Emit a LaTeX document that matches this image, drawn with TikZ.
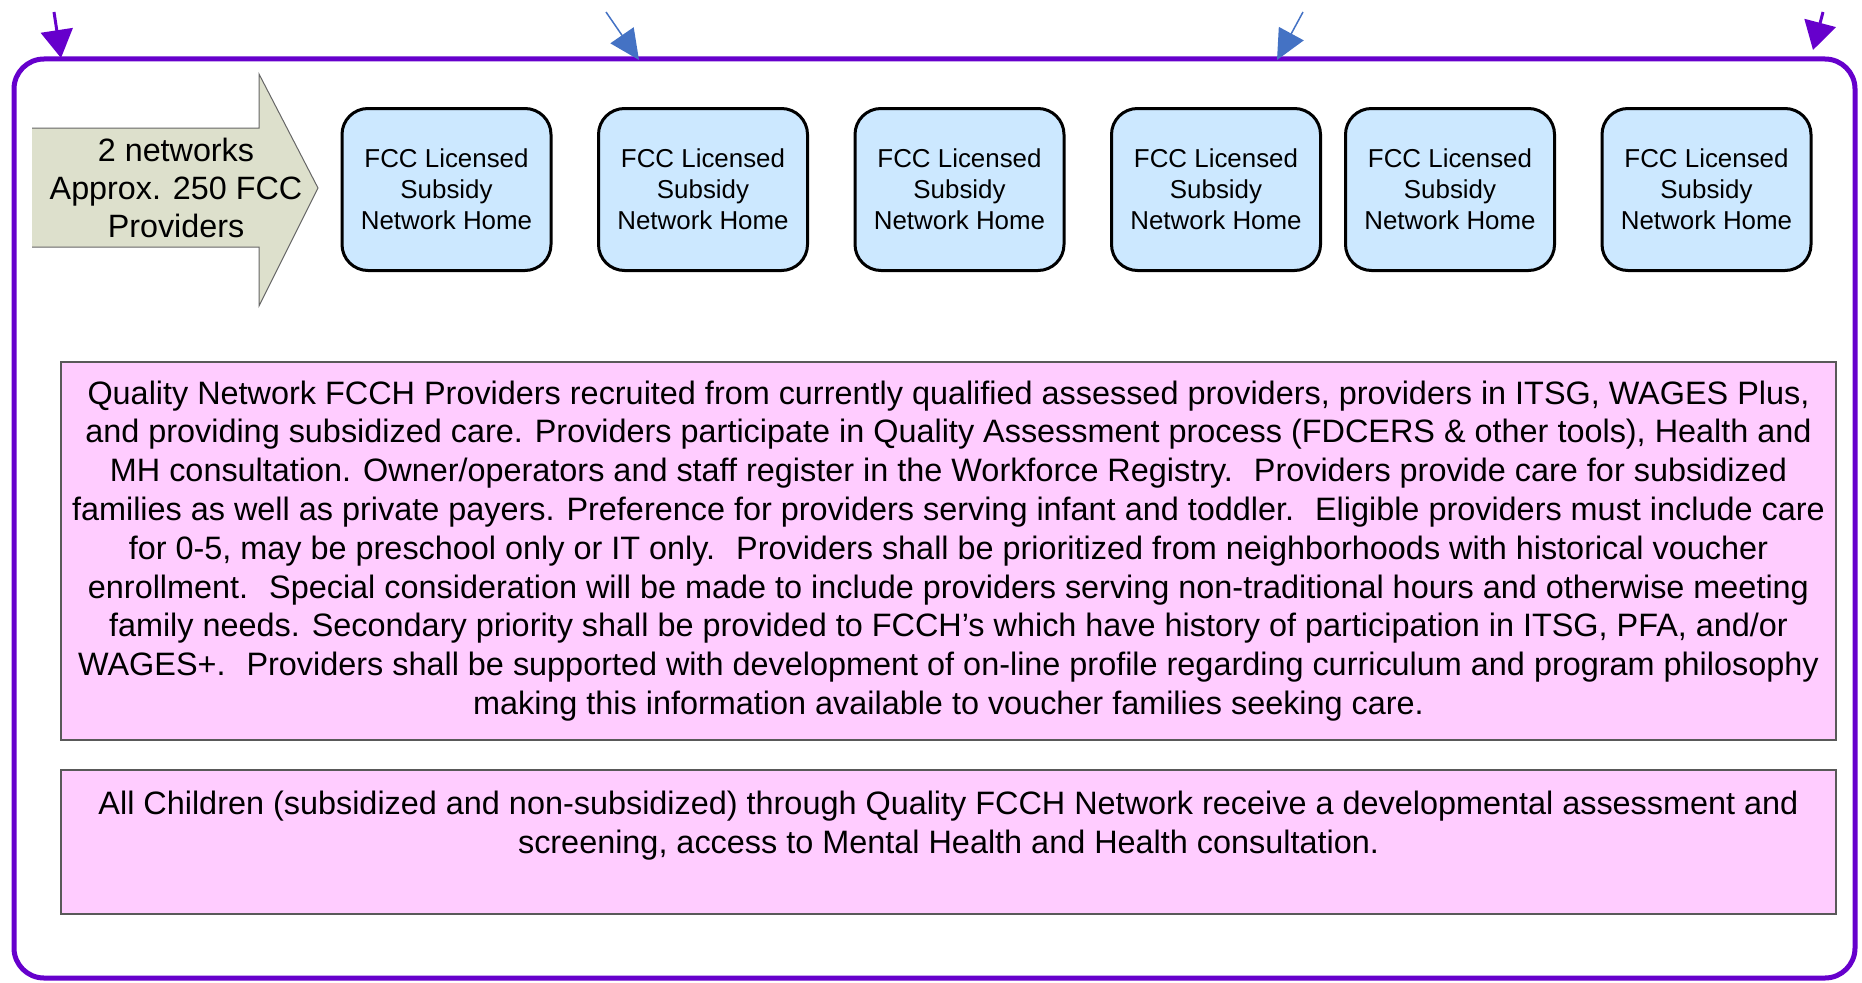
\documentclass[tikz,border=0pt]{standalone}
\usepackage{fontspec}
\setmainfont{Liberation Sans}
\usetikzlibrary{arrows.meta}
\definecolor{framepurple}{RGB}{102,0,204}
\definecolor{arrowblue}{RGB}{68,114,196}
\definecolor{homeblue}{RGB}{204,232,255}
\definecolor{notepink}{RGB}{255,204,255}
\definecolor{bigarrowfill}{RGB}{221,224,204}

\begin{document}
\begin{tikzpicture}[x=1pt,y=-1pt,
  home/.style={draw=black, line width=3pt, fill=homeblue, rounded corners=26pt,
    minimum width=209pt, minimum height=162pt, align=center, inner sep=0pt,
    font=\fontsize{25.9}{30.8}\selectfont},
  note/.style={draw=black!65, line width=1.3pt, fill=notepink, align=center,
    inner sep=0pt, font=\fontsize{32.4}{38.8}\selectfont},
  purplearrow/.style={draw=framepurple, line width=3pt, -{Triangle[length=28pt,width=32pt]}},
  bluearrow/.style={draw=arrowblue, line width=1.5pt, -{Triangle[length=30pt,width=28pt]}},
]
\useasboundingbox (0,0) rectangle (1862,982);

% outer frame
\draw[framepurple, line width=5pt, rounded corners=30pt] (14,59) rectangle (1855,978);

% incoming arrows on the frame
\coordinate (p1s) at (54,12);   \coordinate (p1e) at (61,58);
\coordinate (b1s) at (606,12);  \coordinate (b1e) at (639,60);
\coordinate (b2s) at (1303,12); \coordinate (b2e) at (1277,60);
\coordinate (p2s) at (1823,12); \coordinate (p2e) at (1813,50);
\draw[purplearrow] (p1s) -- (p1e);
\draw[bluearrow] (b1s) -- (b1e);
\draw[bluearrow] (b2s) -- (b2e);
\draw[purplearrow] (p2s) -- (p2e);

% block arrow with the network count
\fill[bigarrowfill] (32,128) -- (259,128) -- (259,74) -- (318,188) -- (259,306)
  -- (259,247) -- (32,247) -- cycle;
\draw[black!60, line width=1pt] (32,128) -- (259,128) -- (259,74) -- (318,188)
  -- (259,306) -- (259,247) -- (32,247);
\node[align=center, inner sep=0pt, font=\fontsize{32.3}{38}\selectfont] (networks)
  at (176,188) {2 networks\\Approx. 250 FCC\\Providers};

% network homes
\node[home] (h1) at (446.5,189.5) {FCC Licensed\\Subsidy\\Network Home};
\node[home] (h2) at (703,189.5)   {FCC Licensed\\Subsidy\\Network Home};
\node[home] (h3) at (959.5,189.5) {FCC Licensed\\Subsidy\\Network Home};
\node[home] (h4) at (1216,189.5)  {FCC Licensed\\Subsidy\\Network Home};
\node[home] (h5) at (1450,189.5)  {FCC Licensed\\Subsidy\\Network Home};
\node[home] (h6) at (1706.5,189.5){FCC Licensed\\Subsidy\\Network Home};

% description boxes
\node[note, minimum width=1775pt, minimum height=378pt] (criteria) at (948.5,551)
  {Quality Network FCCH Providers recruited from currently qualified assessed providers, providers in ITSG, WAGES Plus,\\
   and providing subsidized care. Providers participate in Quality Assessment process (FDCERS \& other tools), Health and\\
   MH consultation. Owner/operators and staff register in the Workforce Registry.~ Providers provide care for subsidized\\
   families as well as private payers. Preference for providers serving infant and toddler.~ Eligible providers must include care\\
   for 0-5, may be preschool only or IT only.~ Providers shall be prioritized from neighborhoods with historical voucher\\
   enrollment.~ Special consideration will be made to include providers serving non-traditional hours and otherwise meeting\\
   family needs. Secondary priority shall be provided to FCCH’s which have history of participation in ITSG, PFA, and/or\\
   WAGES+.~ Providers shall be supported with development of on-line profile regarding curriculum and program philosophy\\
   making this information available to voucher families seeking care.};

\node[note, minimum width=1775pt, minimum height=144pt] (children) at (948.5,842)
  {All Children (subsidized and non-subsidized) through Quality FCCH Network receive a developmental assessment and\\
   screening, access to Mental Health and Health consultation.\\ \mbox{}};
\end{tikzpicture}
\end{document}
